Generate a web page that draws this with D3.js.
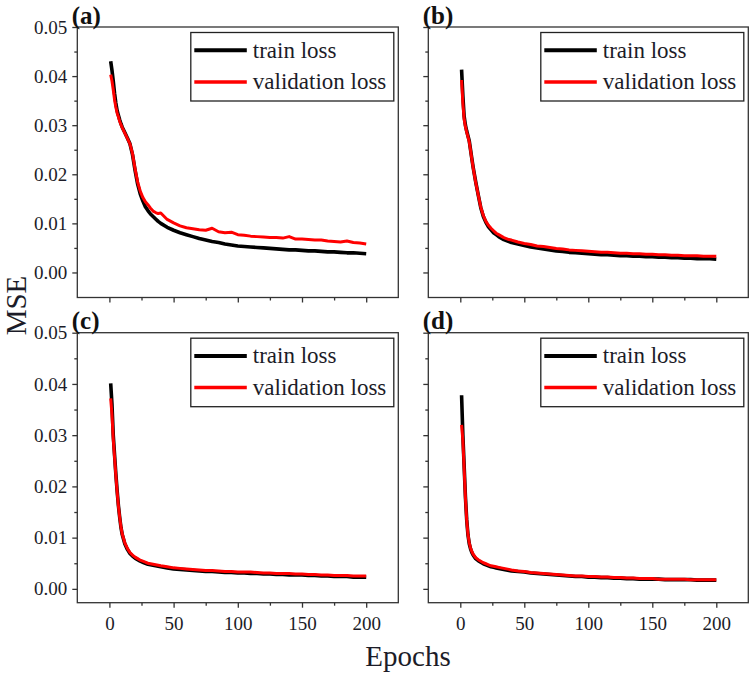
<!DOCTYPE html>
<html><head><meta charset="utf-8">
<script src="https://cdn.jsdelivr.net/npm/d3@7"></script>
<style>body{margin:0;background:#fff}</style>
</head><body><svg id="c" width="750" height="674" xmlns="http://www.w3.org/2000/svg"></svg>
<script>
const epochs = [1,2,3,4,5,6,7,8,9,10,12,14,16,18,20,22,24,26,28,30,32,34,36,38,40,45,50,55,60,65,70,75,80,85,90,95,100,105,110,115,120,125,130,135,140,145,150,155,160,165,170,175,180,185,190,195,200];

const trainA = [0.0430,0.0412,0.0390,0.0365,0.0345,0.0330,0.0320,0.0311,0.0303,0.0296,0.0285,0.0274,0.0262,0.0240,0.0208,0.0180,0.0160,0.0146,0.0134,0.0126,0.0119,0.0114,0.0109,0.0104,0.0100,0.0092,0.0086,0.0081,0.0077,0.0073,0.0069,0.0066,0.0063,0.0061,0.0058,0.0056,0.0054,0.0053,0.0052,0.0051,0.0050,0.0049,0.0048,0.0047,0.0046,0.0046,0.0045,0.0044,0.0044,0.0043,0.0042,0.0042,0.0041,0.0040,0.0040,0.0039,0.0038];
const valA = [0.0403,0.0390,0.0372,0.0352,0.0337,0.0325,0.0317,0.0308,0.0301,0.0295,0.0284,0.0273,0.0262,0.0242,0.0211,0.0184,0.0166,0.0153,0.0144,0.0138,0.0131,0.0125,0.0122,0.0120,0.0121,0.0108,0.0101,0.0095,0.0091,0.0089,0.0087,0.0086,0.0090,0.0083,0.0081,0.0082,0.0077,0.0076,0.0074,0.0073,0.0072,0.0071,0.0071,0.0070,0.0073,0.0068,0.0068,0.0067,0.0066,0.0066,0.0064,0.0063,0.0062,0.0064,0.0061,0.0060,0.0058];

const trainB = [0.0413,0.0360,0.0318,0.0300,0.0288,0.0278,0.0268,0.0250,0.0232,0.0215,0.0185,0.0158,0.0132,0.0114,0.0102,0.0093,0.0087,0.0081,0.0077,0.0073,0.0070,0.0067,0.0065,0.0063,0.0061,0.0058,0.0055,0.0052,0.0050,0.0048,0.0046,0.0044,0.0043,0.0041,0.0040,0.0039,0.0038,0.0037,0.0036,0.0036,0.0035,0.0034,0.0034,0.0033,0.0033,0.0032,0.0032,0.0031,0.0031,0.0030,0.0030,0.0029,0.0029,0.0028,0.0028,0.0028,0.0027];
const valB = [0.0392,0.0345,0.0312,0.0297,0.0286,0.0276,0.0266,0.0249,0.0231,0.0214,0.0184,0.0158,0.0133,0.0116,0.0104,0.0096,0.0090,0.0085,0.0080,0.0077,0.0074,0.0071,0.0069,0.0067,0.0066,0.0062,0.0059,0.0057,0.0054,0.0053,0.0051,0.0049,0.0048,0.0046,0.0045,0.0044,0.0043,0.0042,0.0041,0.0041,0.0040,0.0039,0.0039,0.0038,0.0038,0.0037,0.0037,0.0036,0.0036,0.0035,0.0035,0.0034,0.0034,0.0034,0.0033,0.0033,0.0033];

const trainC = [0.0401,0.0360,0.0300,0.0262,0.0225,0.0192,0.0163,0.0140,0.0120,0.0106,0.0088,0.0077,0.0069,0.0064,0.0060,0.0057,0.0054,0.0052,0.0050,0.0048,0.0047,0.0046,0.0045,0.0044,0.0043,0.0041,0.0039,0.0038,0.0037,0.0036,0.0035,0.0034,0.0034,0.0033,0.0032,0.0032,0.0031,0.0031,0.0030,0.0030,0.0029,0.0029,0.0028,0.0028,0.0027,0.0027,0.0027,0.0026,0.0026,0.0025,0.0025,0.0024,0.0024,0.0024,0.0023,0.0023,0.0023];
const valC = [0.0372,0.0340,0.0292,0.0257,0.0222,0.0190,0.0162,0.0140,0.0121,0.0107,0.0090,0.0079,0.0071,0.0066,0.0062,0.0059,0.0056,0.0054,0.0052,0.0050,0.0049,0.0048,0.0047,0.0046,0.0045,0.0043,0.0041,0.0040,0.0039,0.0038,0.0037,0.0036,0.0036,0.0035,0.0034,0.0034,0.0033,0.0033,0.0033,0.0032,0.0031,0.0031,0.0030,0.0030,0.0030,0.0029,0.0029,0.0028,0.0028,0.0027,0.0027,0.0026,0.0026,0.0026,0.0025,0.0025,0.0025];

const trainD = [0.0378,0.0300,0.0240,0.0180,0.0135,0.0105,0.0088,0.0078,0.0071,0.0066,0.0059,0.0055,0.0052,0.0049,0.0047,0.0045,0.0043,0.0042,0.0041,0.0040,0.0039,0.0038,0.0037,0.0036,0.0035,0.0034,0.0033,0.0031,0.0030,0.0029,0.0028,0.0027,0.0026,0.0025,0.0024,0.0024,0.0023,0.0023,0.0022,0.0022,0.0021,0.0021,0.0020,0.0020,0.0019,0.0019,0.0019,0.0019,0.0018,0.0018,0.0018,0.0018,0.0018,0.0017,0.0017,0.0017,0.0017];
const valD = [0.0320,0.0290,0.0235,0.0178,0.0134,0.0106,0.0090,0.0080,0.0073,0.0068,0.0061,0.0057,0.0054,0.0051,0.0049,0.0047,0.0045,0.0044,0.0043,0.0042,0.0041,0.0040,0.0039,0.0038,0.0037,0.0035,0.0034,0.0032,0.0031,0.0030,0.0029,0.0028,0.0027,0.0026,0.0025,0.0025,0.0024,0.0024,0.0023,0.0023,0.0022,0.0022,0.0021,0.0021,0.0020,0.0020,0.0020,0.0019,0.0019,0.0019,0.0019,0.0019,0.0018,0.0018,0.0018,0.0018,0.0018];

const yTicks = [0, 0.01, 0.02, 0.03, 0.04, 0.05];
const yMinorTicks = [0.005, 0.015, 0.025, 0.035, 0.045];
const xTicks = [0, 50, 100, 150, 200];
const xMinorTicks = [25, 75, 125, 175];
const panelLabels = ["(a)", "(b)", "(c)", "(d)"];
const legendLabels = ["train loss", "validation loss"];
const xTitle = "Epochs";
const yTitle = "MSE";

const FONT = "'Liberation Serif','Times New Roman',serif";
const panels = [
  {label: panelLabels[0], train: trainA, val: valA, x0: 77.3, x1: 398.3, y0: 27, y1: 297.5, yMin: -0.0051, showY: true, showX: false},
  {label: panelLabels[1], train: trainB, val: valB, x0: 428.3, x1: 748.3, y0: 27, y1: 297.5, yMin: -0.0051, showY: false, showX: false},
  {label: panelLabels[2], train: trainC, val: valC, x0: 77.3, x1: 398.3, y0: 332.7, y1: 602.7, yMin: -0.0027, showY: true, showX: true},
  {label: panelLabels[3], train: trainD, val: valD, x0: 428.3, x1: 748.3, y0: 332.7, y1: 602.7, yMin: -0.0027, showY: false, showX: true}
];

const svg = d3.select("#c");
const AX = "#333";

panels.forEach(p => {
  const x = d3.scaleLinear().domain([-25, 225]).range([p.x0, p.x1]);
  const y = d3.scaleLinear().domain([p.yMin, 0.05]).range([p.y1, p.y0]);
  const g = svg.append("g");

  const xa = g.append("g").attr("transform", `translate(0,${p.y1})`)
    .call(d3.axisBottom(x).tickValues(xTicks).tickSize(5).tickPadding(4)
      .tickFormat(p.showX ? d3.format("d") : () => ""));
  const xm = g.append("g").attr("transform", `translate(0,${p.y1})`)
    .call(d3.axisBottom(x).tickValues(xMinorTicks).tickSize(3).tickFormat(() => ""));
  const ya = g.append("g").attr("transform", `translate(${p.x0},0)`)
    .call(d3.axisLeft(y).tickValues(yTicks).tickSize(5).tickPadding(5)
      .tickFormat(p.showY ? d3.format(".2f") : () => ""));
  const ym = g.append("g").attr("transform", `translate(${p.x0},0)`)
    .call(d3.axisLeft(y).tickValues(yMinorTicks).tickSize(3).tickFormat(() => ""));
  [xa, xm, ya, ym].forEach(a => {
    a.select(".domain").remove();
    a.selectAll("line").attr("stroke", AX).attr("stroke-width", 1.3);
    a.selectAll("text").attr("font-family", FONT).attr("font-size", 19).attr("fill", "#1c1c28");
  });
  xa.selectAll("text").attr("dy", "0.95em");

  const line = vals => d3.line().x((d, i) => x(epochs[i])).y(d => y(d))(vals);
  g.append("path").attr("d", line(p.train)).attr("fill", "none")
    .attr("stroke", "#000").attr("stroke-width", 3.6).attr("stroke-linejoin", "round");
  g.append("path").attr("d", line(p.val)).attr("fill", "none")
    .attr("stroke", "#ff0000").attr("stroke-width", 3).attr("stroke-linejoin", "round");

  g.append("rect").attr("x", p.x0).attr("y", p.y0)
    .attr("width", p.x1 - p.x0).attr("height", p.y1 - p.y0)
    .attr("fill", "none").attr("stroke", AX).attr("stroke-width", 1.3);

  const lw = 203, lh = 68.5;
  const lx = p.x1 - 4.5 - lw, ly = p.y0 + 5.5;
  const lg = g.append("g");
  lg.append("rect").attr("x", lx).attr("y", ly).attr("width", lw).attr("height", lh)
    .attr("fill", "#fff").attr("stroke", "#222").attr("stroke-width", 1.3);
  const items = [{t: legendLabels[0], c: "#000", w: 4}, {t: legendLabels[1], c: "#ff0000", w: 3.5}];
  items.forEach((it, i) => {
    const yy = ly + 17.7 + i * 31.7;
    lg.append("line").attr("x1", lx + 3.5).attr("x2", lx + 56).attr("y1", yy).attr("y2", yy)
      .attr("stroke", it.c).attr("stroke-width", it.w);
    lg.append("text").attr("x", lx + 62).attr("y", yy + 7.5).text(it.t)
      .attr("font-family", FONT).attr("font-size", 23).attr("fill", "#1c1c28");
  });

  g.append("text").attr("x", p.x0 - 5.5).attr("y", p.y0 - 3.5).text(p.label)
    .attr("font-family", FONT).attr("font-size", 25).attr("font-weight", "bold").attr("fill", "#111");
});

svg.append("text").attr("x", 408).attr("y", 666).attr("text-anchor", "middle")
  .attr("font-family", FONT).attr("font-size", 29).attr("fill", "#1c1c28").text(xTitle);
svg.append("text").attr("transform", "translate(26,305.5) rotate(-90)").attr("text-anchor", "middle")
  .attr("font-family", FONT).attr("font-size", 29).attr("fill", "#1c1c28").text(yTitle);
</script>
</body></html>
